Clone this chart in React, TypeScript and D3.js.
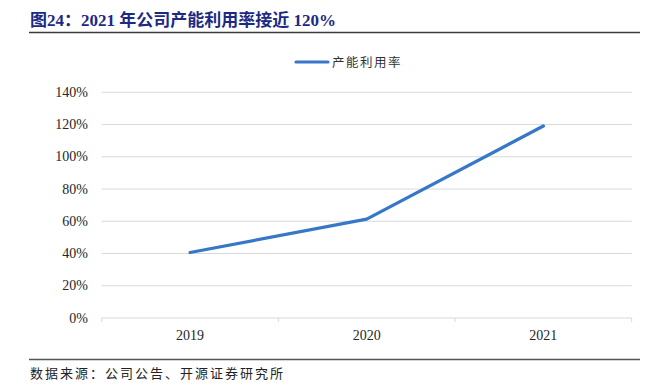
import React from "react";
import * as d3 from "d3";

const categories = ["2019", "2020", "2021"];
const utilization = [40.6, 61.3, 119.1];
const yTicks = [0, 20, 40, 60, 80, 100, 120, 140];
const seriesName = "产能利用率";
const title = "图24：2021 年公司产能利用率接近 120%";
const source = "数据来源：公司公告、开源证券研究所";

export default function App() {
  const W = 664, H = 389;
  const left = 101.7, right = 631.7, top = 92.3, bottom = 318;
  const x = d3.scaleBand<string>().domain(categories).range([left, right]);
  const y = d3.scaleLinear().domain([0, 140]).range([bottom, top]);
  const line = d3
    .line<number>()
    .x((_, i) => (x(categories[i]) as number) + x.bandwidth() / 2)
    .y((d) => y(d));
  const serif = "'Liberation Serif', 'Noto Sans CJK SC', serif";
  const cjk = "'Liberation Serif', 'Noto Sans CJK SC', serif";
  const tickXs = [left, ...categories.map((c) => (x(c) as number) + x.bandwidth())];
  return (
    <svg width={W} height={H} style={{ position: "absolute", left: 0, top: 0, background: "#fff" }}>
      <text x={30} y={26} fontFamily={cjk} fontWeight="bold" fontSize={17} fill="#1c2a84">
        {title}
      </text>
      <line x1={29} x2={640} y1={32.5} y2={32.5} stroke="#3a3a3a" strokeWidth={1.3} />
      {yTicks.map((t) => (
        <g key={t}>
          <line x1={left} x2={right} y1={y(t)} y2={y(t)} stroke="#d9d9d9" strokeWidth={1} />
          <text x={88} y={y(t) + 4.5} textAnchor="end" fontFamily={serif} fontSize={14} fill="#262626">
            {t}%
          </text>
        </g>
      ))}
      {tickXs.map((tx, i) => (
        <line key={i} x1={tx} x2={tx} y1={bottom} y2={bottom + 4} stroke="#d9d9d9" strokeWidth={1} />
      ))}
      {categories.map((c) => (
        <text
          key={c}
          x={(x(c) as number) + x.bandwidth() / 2}
          y={340}
          textAnchor="middle"
          fontFamily={serif}
          fontSize={14}
          fill="#262626"
        >
          {c}
        </text>
      ))}
      <path d={line(utilization) || ""} fill="none" stroke="#3677c8" strokeWidth={3.2} strokeLinecap="round" strokeLinejoin="round" />
      <line x1={296} x2={328} y1={62} y2={62} stroke="#3677c8" strokeWidth={3.2} strokeLinecap="round" />
      <text x={332} y={66.5} fontFamily={cjk} fontSize={12.5} fill="#333" letterSpacing={1.5}>
        {seriesName}
      </text>
      <line x1={29} x2={640} y1={359.5} y2={359.5} stroke="#555" strokeWidth={1.3} />
      <text x={30} y={378} fontFamily={cjk} fontSize={13} fill="#222" letterSpacing={2}>
        {source}
      </text>
    </svg>
  );
}
